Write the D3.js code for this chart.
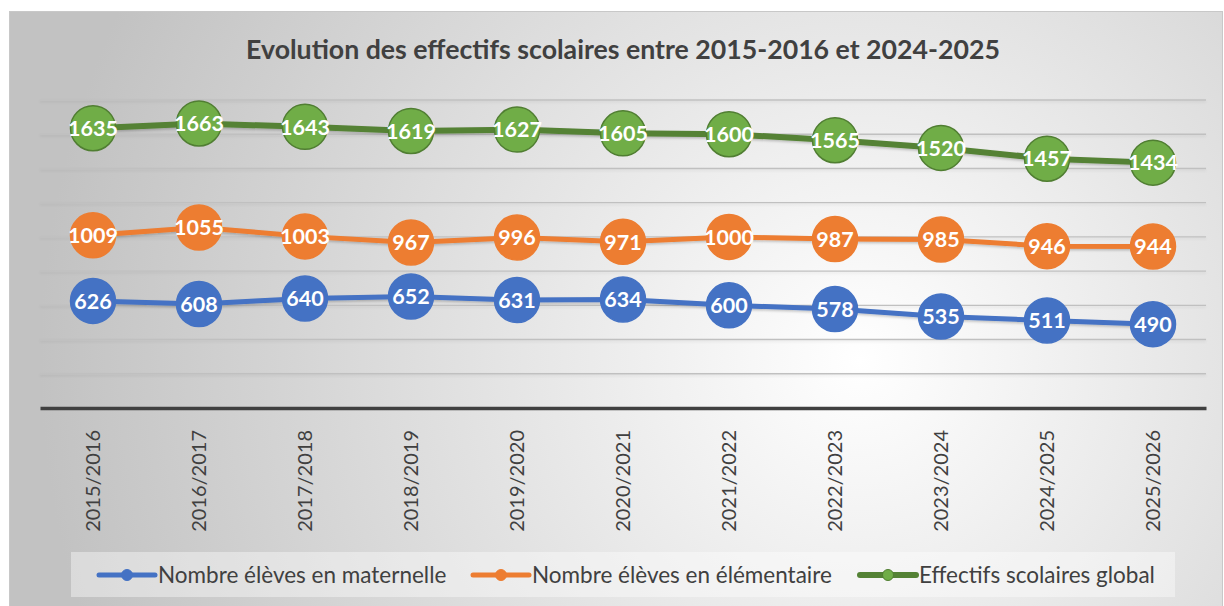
<!DOCTYPE html>
<html>
<head>
<meta charset="utf-8">
<script src="https://cdn.jsdelivr.net/npm/d3@7"></script>
<style>
  body { margin: 0; background: #fff; }
  svg { display: block; font-family: Lato, "Open Sans", sans-serif; }
</style>
</head>
<body>
<svg id="chart" width="1224" height="606"></svg>
<script>
const years = ["2015/2016", "2016/2017", "2017/2018", "2018/2019", "2019/2020", "2020/2021",
               "2021/2022", "2022/2023", "2023/2024", "2024/2025", "2025/2026"];
const maternelle = [626, 608, 640, 652, 631, 634, 600, 578, 535, 511, 490];
const elementaire = [1009, 1055, 1003, 967, 996, 971, 1000, 987, 985, 946, 944];
const global = [1635, 1663, 1643, 1619, 1627, 1605, 1600, 1565, 1520, 1457, 1434];
const yTicks = [0, 200, 400, 600, 800, 1000, 1200, 1400, 1600, 1800];

const seriesList = [
  { name: "Nombre élèves en maternelle", values: maternelle, color: "#4472c4", line: "#4472c4", stroke: "#4472c4", lw: 5 },
  { name: "Nombre élèves en élémentaire", values: elementaire, color: "#ed7d31", line: "#ed7d31", stroke: "#ed7d31", lw: 5 },
  { name: "Effectifs scolaires global", values: global, color: "#70ad47", line: "#548235", stroke: "#507e32", lw: 6 }
];

const svg = d3.select("#chart");
const width = +svg.attr("width");
const height = +svg.attr("height");
const margin = { top: 100, right: 18, bottom: 198, left: 40 };

// background with radial gradient
const defs = svg.append("defs");
const grad = defs.append("radialGradient")
  .attr("id", "bg")
  .attr("gradientUnits", "userSpaceOnUse")
  .attr("cx", 860).attr("cy", 360).attr("r", 820);
grad.append("stop").attr("offset", "0%").attr("stop-color", "#ffffff");
grad.append("stop").attr("offset", "100%").attr("stop-color", "#c2c2c2");

// soft shadows (user space so flat lines keep a region)
function addShadow(id, op) {
  const f = defs.append("filter").attr("id", id)
    .attr("filterUnits", "userSpaceOnUse")
    .attr("x", 0).attr("y", 0).attr("width", width).attr("height", height);
  f.append("feDropShadow").attr("dx", 0).attr("dy", 1.5).attr("stdDeviation", 1)
    .attr("flood-color", "#000").attr("flood-opacity", op);
}
addShadow("sh", 0.22);
addShadow("shGrid", 0.08);

svg.append("rect")
  .attr("x", 9.5).attr("y", 11.5).attr("width", width - 11).attr("height", height)
  .attr("fill", "url(#bg)").attr("stroke", "#c8c8c8").attr("stroke-width", 1);

const x = d3.scaleBand().domain(years).range([margin.left, width - margin.right]);
const y = d3.scaleLinear().domain([0, 1800]).range([height - margin.bottom, margin.top]);
const cx = d => x(d) + x.bandwidth() / 2;

// gridlines
svg.append("g").attr("filter", "url(#shGrid)").selectAll("line")
  .data(yTicks.slice(1))
  .join("line")
  .attr("x1", margin.left).attr("x2", width - margin.right)
  .attr("y1", d => y(d)).attr("y2", d => y(d))
  .attr("stroke", "#c0c0c0").attr("stroke-width", 1.4);

// x axis
const xAxis = svg.append("g")
  .attr("transform", `translate(0,${y(0)})`)
  .call(d3.axisBottom(x).tickSize(0).tickPadding(0));
xAxis.select(".domain").attr("stroke", "#404040").attr("stroke-width", 3.5);
xAxis.selectAll("text")
  .attr("transform", "rotate(-90)")
  .attr("x", -22).attr("y", 0).attr("dy", "0.35em")
  .attr("text-anchor", "end")
  .attr("fill", "#404040")
  .style("font-size", "20px")
  .style("font-family", "Lato, sans-serif");

// title
svg.append("text")
  .attr("x", 623).attr("y", 59)
  .attr("text-anchor", "middle")
  .attr("fill", "#404040")
  .style("font-size", "26.7px").style("font-weight", "bold")
  .text("Evolution des effectifs scolaires entre 2015-2016 et 2024-2025");

// lines, markers, labels
const lineGen = d3.line().x((d, i) => cx(years[i])).y(d => y(d));
seriesList.forEach(s => {
  const g = svg.append("g");
  g.append("path")
    .datum(s.values)
    .attr("d", lineGen)
    .attr("fill", "none")
    .attr("stroke", s.line)
    .attr("stroke-width", s.lw)
    .attr("filter", "url(#sh)");
  g.selectAll("circle")
    .data(s.values)
    .join("circle")
    .attr("cx", (d, i) => cx(years[i]))
    .attr("cy", d => y(d))
    .attr("r", 22.5)
    .attr("fill", s.color)
    .attr("stroke", s.stroke)
    .attr("stroke-width", 1.5);
  g.selectAll("text")
    .data(s.values)
    .join("text")
    .attr("x", (d, i) => cx(years[i]))
    .attr("y", d => y(d))
    .attr("dy", "0.36em")
    .attr("text-anchor", "middle")
    .attr("fill", "#fff")
    .style("font-size", "21.5px").style("font-weight", "bold")
    .text(d => d);
});

// legend
const legend = svg.append("g");
legend.append("rect")
  .attr("x", 71).attr("y", 552).attr("width", 1104).attr("height", 45)
  .attr("fill", "#ffffff").attr("fill-opacity", 0.4);
const legendX = [99, 473, 860];
seriesList.forEach((s, i) => {
  const lg = legend.append("g").attr("transform", `translate(${legendX[i]},575)`);
  lg.append("line").attr("x1", 0).attr("x2", 56)
    .attr("stroke", s.line).attr("stroke-width", s.lw).attr("stroke-linecap", "round");
  lg.append("circle").attr("cx", 28).attr("r", 5.5)
    .attr("fill", s.color).attr("stroke", s.stroke).attr("stroke-width", 1);
  lg.append("text").attr("x", 59).attr("dy", "0.35em")
    .attr("fill", "#404040")
    .style("font-size", "22.5px")
    .text(s.name);
});
</script>
</body>
</html>
